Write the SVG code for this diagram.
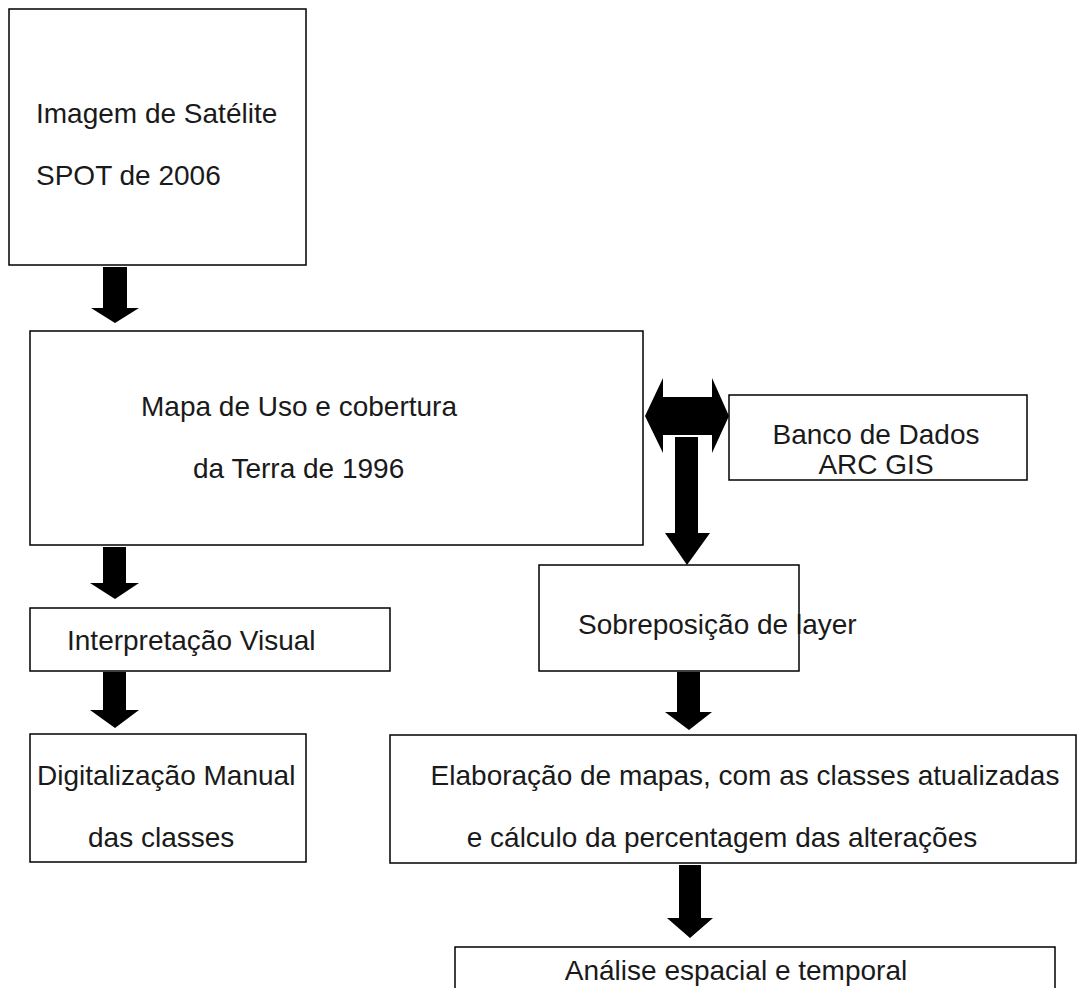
<svg xmlns="http://www.w3.org/2000/svg" width="1086" height="988" viewBox="0 0 1086 988">
<style>
.box{fill:#fff;stroke:#000;stroke-width:1.5}
.t{font-family:"Liberation Sans",Arial,sans-serif;font-size:28px;fill:#1a1a1a}
.m{text-anchor:middle}
.arr{fill:#000}
</style>
<rect width="1086" height="988" fill="#fff"/>
<g id="connectors">
<polygon class="arr" points="103,267 127,267 127,308 139,308 115,323 91,308 103,308"/>
<polygon class="arr" points="103,547 126,547 126,583 139,583 115,599 90,583 103,583"/>
<polygon class="arr" points="103,672 126,672 126,710 139,710 115,728 90,710 103,710"/>
<polygon class="arr" points="645,416 663,378 663,397 712,397 712,378 729,416 712,453 712,435 663,435 663,453"/>
<polygon class="arr" points="675,437 698,437 698,533 710,533 687,565 665,533 675,533"/>
<polygon class="arr" points="677,672 700,672 700,712 712,712 689,730 665,712 677,712"/>
<polygon class="arr" points="679,865 701,865 701,918 713,918 690,938 667,918 679,918"/>
</g>
<g id="n1"><rect class="box" x="9" y="9" width="297" height="256"/>
<text class="t" x="36" y="123">Imagem de Satélite</text>
<text class="t" x="36" y="185">SPOT de 2006</text></g>
<g id="n2"><rect class="box" x="30" y="331" width="613" height="214"/>
<text class="t" x="141" y="416">Mapa de Uso e cobertura</text>
<text class="t" x="193" y="478">da Terra de 1996</text></g>
<g id="n3"><rect class="box" x="30" y="608" width="360" height="63"/>
<text class="t" x="67" y="650">Interpretação Visual</text></g>
<g id="n4"><rect class="box" x="30" y="734" width="276" height="128"/>
<text class="t" x="37" y="785">Digitalização Manual</text>
<text class="t" x="88" y="847">das classes</text></g>
<g id="n5"><rect class="box" x="729" y="395" width="298" height="85"/>
<text class="t m" x="876" y="444">Banco de Dados</text>
<text class="t m" x="876" y="474">ARC GIS</text></g>
<g id="n6"><rect class="box" x="539" y="565" width="260" height="106"/>
<text class="t" x="578" y="634">Sobreposição de layer</text></g>
<g id="n7"><rect class="box" x="390" y="735" width="686" height="128"/>
<text class="t m" x="745" y="785">Elaboração de mapas, com as classes atualizadas</text>
<text class="t m" x="722" y="847">e cálculo da percentagem das alterações</text></g>
<g id="n8"><rect class="box" x="455" y="947" width="600" height="60"/>
<text class="t m" x="736" y="980">Análise espacial e temporal</text></g>
</svg>
